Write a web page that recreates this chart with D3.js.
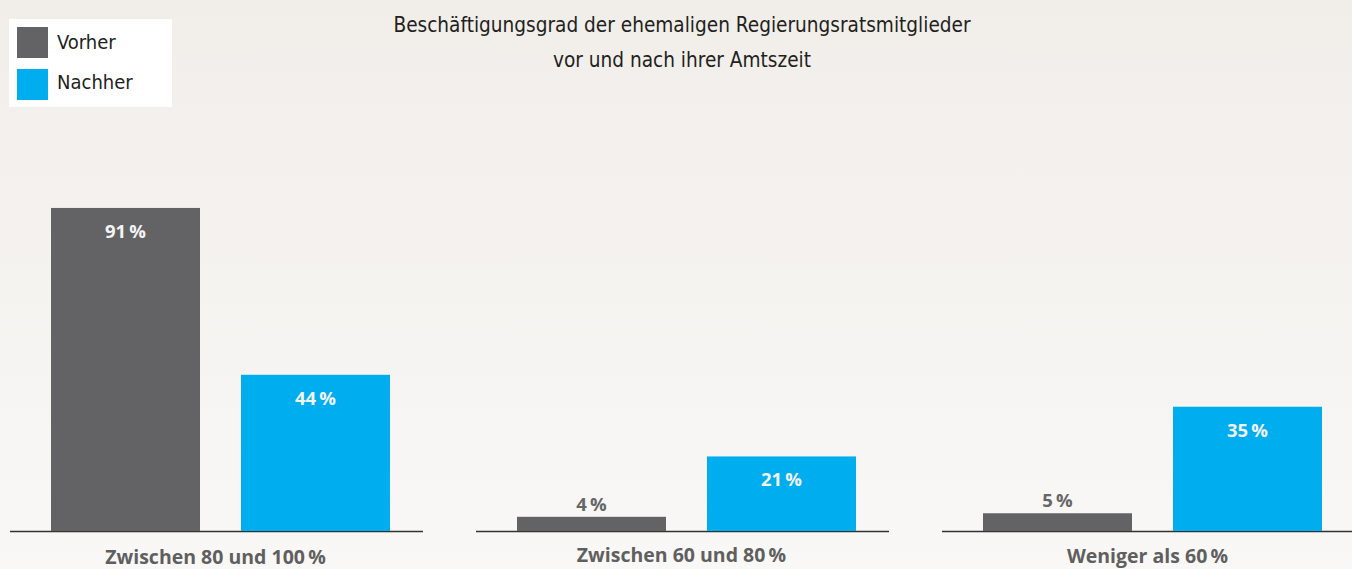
<!DOCTYPE html>
<html><head><meta charset="utf-8">
<script src="https://cdn.jsdelivr.net/npm/d3@7"></script>
<style>
html,body{margin:0;padding:0;}
body{width:1352px;height:569px;overflow:hidden;}
</style></head>
<body>
<svg id="c" width="1352" height="569"></svg>
<script>
const categories = ["Zwischen 80 und 100\u2009%", "Zwischen 60 und 80\u2009%", "Weniger als 60\u2009%"];
const seriesNames = ["Vorher", "Nachher"];
const vorher = [91, 4, 5];
const nachher = [44, 21, 35];
const valueLabels = [["91\u2009%", "4\u2009%", "5\u2009%"], ["44\u2009%", "21\u2009%", "35\u2009%"]];
const titleLines = ["Beschäftigungsgrad der ehemaligen Regierungsratsmitglieder", "vor und nach ihrer Amtszeit"];

const colors = ["#636365", "#00adef"];
const condFont = "'Liberation Sans Narrow', 'DejaVu Sans Condensed', 'Open Sans', sans-serif";
const boldFont = "'Open Sans', 'Noto Sans', sans-serif";

const svg = d3.select("#c");
const defs = svg.append("defs");
const grad = defs.append("linearGradient").attr("id","bg").attr("x1",0).attr("y1",0).attr("x2",0).attr("y2",1);
grad.append("stop").attr("offset","0%").attr("stop-color","#f1eeea");
grad.append("stop").attr("offset","100%").attr("stop-color","#f9f8f6");
svg.append("rect").attr("width",1352).attr("height",569).attr("fill","url(#bg)");

const baseY = 531;
const y = d3.scaleLinear().domain([0, 100]).range([baseY, 176]);
const x0 = d3.scaleBand().domain(categories).range([10, 1355]).paddingInner(53/466).paddingOuter(0);
const x1 = d3.scaleBand().domain(seriesNames).range([41, 380]).paddingInner(41/190).paddingOuter(0);

const data = categories.map((c, i) => ({cat: c, vals: [vorher[i], nachher[i]], i}));

const g = svg.append("g");
data.forEach(d => {
  const gx = x0(d.cat);
  const gg = g.append("g").attr("transform", `translate(${gx},0)`);
  gg.append("line").attr("x1", 0).attr("x2", x0.bandwidth()).attr("y1", baseY + 0.5).attr("y2", baseY + 0.5)
    .attr("stroke", "#333").attr("stroke-width", 1.5);
  seriesNames.forEach((s, si) => {
    const v = d.vals[si];
    const bx = x1(s);
    gg.append("rect").attr("x", bx).attr("y", y(v)).attr("width", x1.bandwidth()).attr("height", baseY - y(v))
      .attr("fill", colors[si]);
    const inside = (baseY - y(v)) > 40;
    gg.append("text").attr("x", bx + x1.bandwidth()/2)
      .attr("y", inside ? y(v) + 30 : y(v) - 6)
      .attr("text-anchor", "middle")
      .attr("font-family", boldFont).attr("font-weight", 700).attr("font-size", 18.5)
      .attr("fill", inside ? "#f4f4f4" : "#666666")
      .text(valueLabels[si][d.i]);
  });
});

// category labels
const labelY = [564, 562, 563];
data.forEach(d => {
  svg.append("text").attr("x", x0(d.cat) + 41 + 339/2 - 5).attr("y", labelY[d.i])
    .attr("text-anchor", "middle")
    .attr("font-family", boldFont).attr("font-weight", 700).attr("font-size", 19.5)
    .attr("fill", "#5f5f60").text(d.cat);
});

// title
titleLines.forEach((t, i) => {
  svg.append("text").attr("x", 682).attr("y", 32 + i*35).attr("text-anchor", "middle")
    .attr("font-family", condFont).attr("font-size", 20.6).attr("fill", "#231f20").text(t);
});

// legend
const lg = svg.append("g");
lg.append("rect").attr("x", 9).attr("y", 19).attr("width", 163).attr("height", 88).attr("fill", "#ffffff");
seriesNames.forEach((s, i) => {
  lg.append("rect").attr("x", 17).attr("y", 27 + i*42).attr("width", 31).attr("height", 31).attr("fill", colors[i]);
  lg.append("text").attr("x", 57).attr("y", 49 + i*40).attr("font-family", condFont).attr("font-size", 20)
    .attr("fill", "#231f20").text(s);
});
</script>
</body></html>
